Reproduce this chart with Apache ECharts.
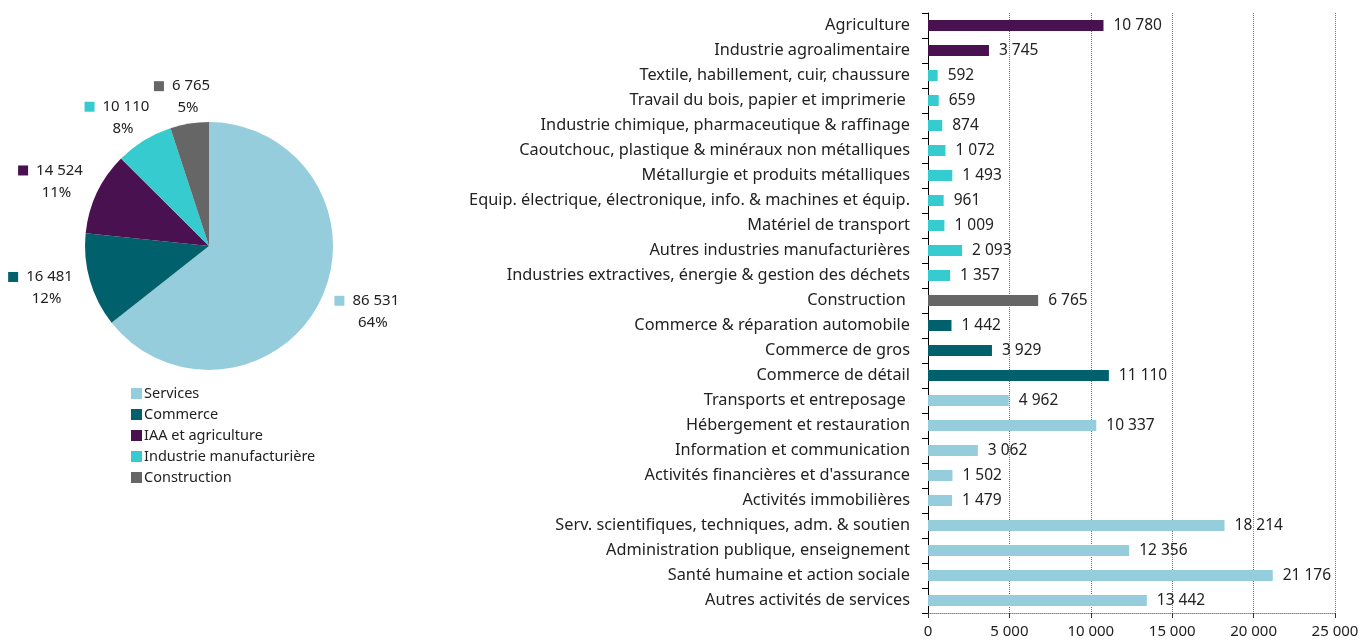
<!DOCTYPE html>
<html>
<head>
<meta charset="utf-8">
<title>Emplois par secteur</title>
<script src="https://cdn.jsdelivr.net/npm/echarts@6/dist/echarts.min.js"></script>
<style>
  html, body { margin: 0; padding: 0; background: #fff; }
  #main { width: 1362px; height: 640px; }
</style>
</head>
<body>
<div id="main"></div>
<script>
// secteurs (camembert)
var sectorNames = ['Services', 'Commerce', 'IAA et agriculture', 'Industrie manufacturière', 'Construction'];
var sectorValues = [86531, 16481, 14524, 10110, 6765];
var sectorColors = ['#96cddc', '#00606b', '#4a1150', '#35cbcf', '#666666'];

// détail par activité (barres)
var activities = [
    'Agriculture', 'Industrie agroalimentaire', 'Textile, habillement, cuir, chaussure',
    'Travail du bois, papier et imprimerie ', 'Industrie chimique, pharmaceutique & raffinage',
    'Caoutchouc, plastique & minéraux non métalliques', 'Métallurgie et produits métalliques',
    'Equip. électrique, électronique, info. & machines et équip.', 'Matériel de transport',
    'Autres industries manufacturières', 'Industries extractives, énergie & gestion des déchets',
    'Construction ', 'Commerce & réparation automobile', 'Commerce de gros', 'Commerce de détail',
    'Transports et entreposage ', 'Hébergement et restauration', 'Information et communication',
    "Activités financières et d'assurance", 'Activités immobilières',
    'Serv. scientifiques, techniques, adm. & soutien', 'Administration publique, enseignement',
    'Santé humaine et action sociale', 'Autres activités de services'
];
var activityValues = [10780, 3745, 592, 659, 874, 1072, 1493, 961, 1009, 2093, 1357,
    6765, 1442, 3929, 11110, 4962, 10337, 3062, 1502, 1479, 18214, 12356, 21176, 13442];
// index du secteur de chaque activité
var activitySector = [2, 2, 3, 3, 3, 3, 3, 3, 3, 3, 3, 4, 1, 1, 1, 0, 0, 0, 0, 0, 0, 0, 0, 0];

var xTicks = [0, 5000, 10000, 15000, 20000, 25000];

function fmt(n) {
    return String(n).replace(/\B(?=(\d{3})+(?!\d))/g, ' ');
}

var FONT = 'Noto Sans';
var PIE_CX = 209, PIE_CY = 246, PIE_R = 124, LABEL_GAP = 19;

var total = sectorValues.reduce(function (a, b) { return a + b; }, 0);
// angle médian de chaque part (départ à 12h, sens horaire)
var midAngles = [];
var acc = 0;
for (var k = 0; k < sectorValues.length; k++) {
    var a0 = acc;
    acc += sectorValues[k] / total * 360;
    midAngles.push(90 - (a0 + acc) / 2);
}

var pieData = [];
for (var i = 0; i < sectorNames.length; i++) {
    var rich = {
        sq: { width: 10, height: 10, backgroundColor: sectorColors[i] },
        gap: { width: 8 },
        v: { fontSize: 15, color: '#222', fontFamily: FONT },
        p: { fontSize: 15, color: '#222', fontFamily: FONT, padding: [0, 0, 0, 12] }
    };
    pieData.push({
        name: sectorNames[i],
        value: sectorValues[i],
        itemStyle: { color: sectorColors[i] },
        label: { rich: rich }
    });
}

var barData = activityValues.map(function (v, i) {
    return { value: v, itemStyle: { color: sectorColors[activitySector[i]] } };
});

var chart = echarts.init(document.getElementById('main'));
chart.setOption({
    animation: false,
    textStyle: { fontFamily: FONT },
    legend: {
        orient: 'vertical',
        left: 126,
        top: 381,
        data: sectorNames,
        itemWidth: 11,
        itemHeight: 11,
        itemGap: 6,
        icon: 'rect',
        textStyle: { fontSize: 14.5, color: '#222', fontFamily: FONT, padding: [0, 0, 0, -3] }
    },
    grid: { left: 928, right: 27, top: 13, bottom: 27, containLabel: false },
    xAxis: {
        type: 'value',
        min: 0,
        max: 25000,
        interval: 5000,
        axisLine: { show: true, lineStyle: { color: '#888', type: 'dotted' } },
        axisTick: { show: true, length: 5, lineStyle: { color: '#333' } },
        splitLine: { show: true, lineStyle: { color: '#777', type: 'dotted' } },
        axisLabel: {
            fontSize: 15, color: '#222', margin: 11,
            formatter: function (v) { return xTicks.indexOf(v) >= 0 ? fmt(v) : ''; }
        }
    },
    yAxis: {
        type: 'category',
        data: activities,
        inverse: true,
        axisLine: { show: true, lineStyle: { color: '#000' } },
        axisTick: { show: true, length: 6, lineStyle: { color: '#000' } },
        axisLabel: { fontSize: 16.3, color: '#222', margin: 18 }
    },
    series: [
        {
            type: 'pie',
            center: [PIE_CX, PIE_CY],
            radius: PIE_R,
            startAngle: 90,
            clockwise: true,
            data: pieData,
            label: {
                show: true,
                position: 'outside',
                overflow: 'none',
                formatter: function (p) {
                    return '{sq|}{gap|}{v|' + fmt(p.value) + '}\n{p|' + Math.round(p.value / total * 100) + '%}';
                },
                align: 'center',
                lineHeight: 22
            },
            labelLine: { show: false },
            // étiquette posée hors du disque, dans l'axe de la part
            labelLayout: function (params) {
                var ang = midAngles[params.dataIndex] * Math.PI / 180;
                var dx = Math.cos(ang), dy = -Math.sin(ang);
                var hw = params.labelRect.width / 2, hh = params.labelRect.height / 2;
                return {
                    x: PIE_CX + dx * (PIE_R + LABEL_GAP + hw),
                    y: PIE_CY + dy * (PIE_R + LABEL_GAP + hh * 0.35),
                    align: 'center',
                    verticalAlign: 'middle'
                };
            },
            emphasis: { disabled: true }
        },
        {
            type: 'bar',
            data: barData,
            barWidth: 11,
            label: {
                show: true,
                position: 'right',
                distance: 10,
                fontSize: 15.5,
                color: '#222',
                formatter: function (p) { return fmt(p.value); }
            }
        }
    ]
});
</script>
</body>
</html>
